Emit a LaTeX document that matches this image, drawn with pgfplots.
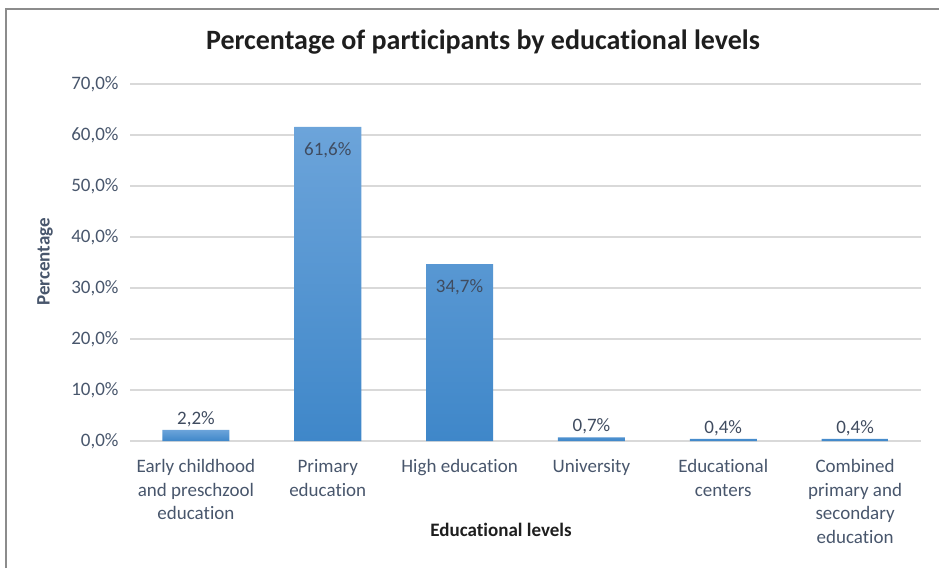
\documentclass[border=0pt]{standalone}
\usepackage{pgfplots}
\pgfplotsset{compat=1.18}
\usepackage{fontspec}
\setmainfont{Carlito}[Ligatures=NoCommon]

\definecolor{txt}{RGB}{72,86,108}
\definecolor{lbl}{RGB}{64,76,96}
\definecolor{ttl}{RGB}{30,30,30}
\definecolor{gridc}{RGB}{217,217,217}
\definecolor{frame}{RGB}{140,140,140}
\definecolor{bartop}{RGB}{108,164,218}
\definecolor{barbot}{RGB}{63,135,201}

\begin{document}
\begin{tikzpicture}[x=1pt,y=1pt]
  \path[use as bounding box] (0,0) rectangle (939,568);
  \draw[frame, line width=1.5pt] (6,0) -- (6,559) -- (939,559);

  \node[ttl, font=\fontsize{28}{32}\selectfont\bfseries] at (483,526) {Percentage of participants by educational levels};
  \node[txt, rotate=90, font=\fontsize{19}{23}\selectfont\bfseries] at (45,306) {Percentage};
  \node[ttl, font=\fontsize{19}{23}\selectfont\bfseries] at (501,38) {Educational levels};

  \begin{axis}[
      at={(130pt,127pt)}, anchor=south west,
      scale only axis, width=791pt, height=357pt,
      xmin=-0.5, xmax=5.5, ymin=0, ymax=70,
      ybar, bar width=67pt, bar shift=0pt,
      axis lines*=left, axis line style={draw=none},
      major tick length=0pt,
      ymajorgrids, grid style={gridc, line width=1.5pt},
      ytick={0,10,...,70},
      yticklabel={\pgfmathprintnumber[fixed,fixed zerofill,precision=1,use comma]{\tick}\%},
      yticklabel style={txt, font=\fontsize{19}{23}\selectfont, anchor=east, xshift=-8pt},
      xtick={0,...,5},
      xticklabels={Early childhood\\and preschzool\\education, Primary\\education, High education, University, Educational\\centers, Combined\\primary and\\secondary\\education},
      xticklabel style={txt, font=\fontsize{19}{23.5}\selectfont, align=center, anchor=north, yshift=-15pt},
      /pgf/number format/assume math mode=true,
      nodes near coords={\pgfmathprintnumber[fixed,fixed zerofill,precision=1,use comma]{\pgfplotspointmeta}\%},
      every node near coord/.append style={lbl, font=\fontsize{19}{23}\selectfont},
    ]
    % bars with labels inside the top end
    \addplot[draw=none, top color=bartop, bottom color=barbot,
      every node near coord/.append style={anchor=center, yshift=-23pt}]
      coordinates {(1,61.6) (2,34.7)};
    % small bars with labels above
    \addplot[draw=none, top color=bartop, bottom color=barbot,
      every node near coord/.append style={anchor=south, inner sep=3pt}]
      coordinates {(0,2.2) (3,0.7) (4,0.4) (5,0.4)};
  \end{axis}
\end{tikzpicture}
\end{document}
